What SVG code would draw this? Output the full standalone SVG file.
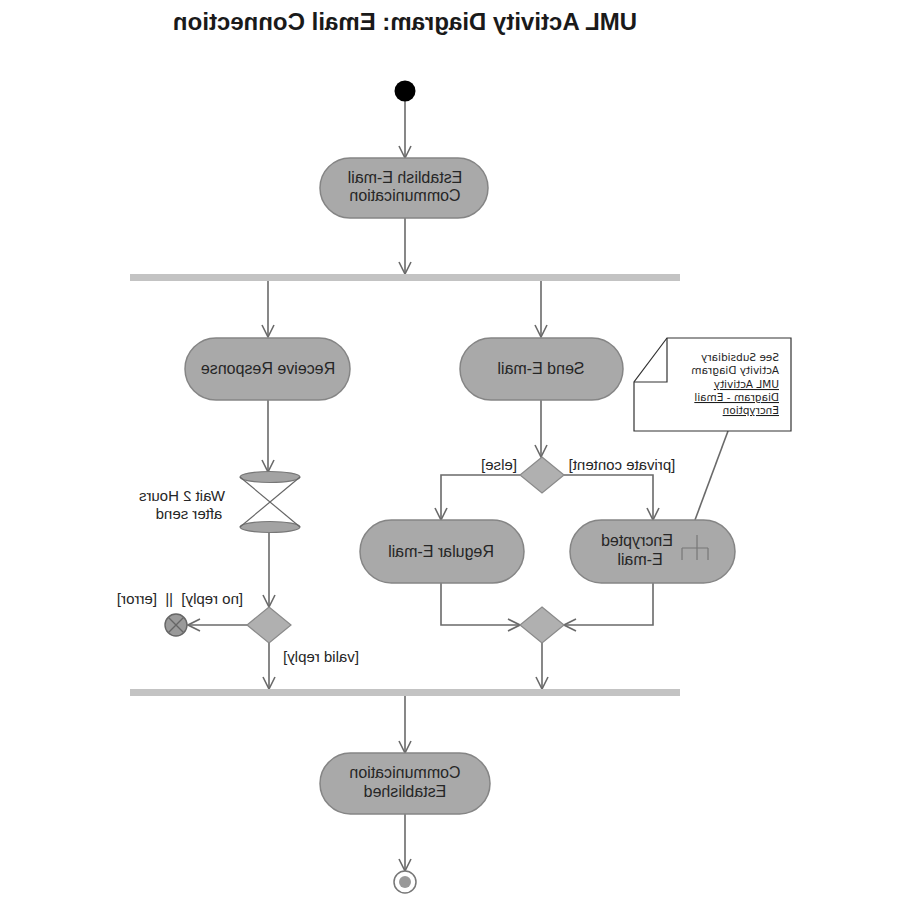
<svg xmlns="http://www.w3.org/2000/svg" width="900" height="900" viewBox="0 0 900 900">
<style>
text{font-family:"Liberation Sans",Arial,sans-serif;fill:#262626}
.title{font-size:24px;font-weight:bold;text-anchor:middle;fill:#1a1a1a}
.nt{font-size:16px;text-anchor:middle}
.lb{font-size:15px;text-anchor:middle}
.note{font-family:"DejaVu Sans",sans-serif;font-size:10.5px;fill:#1e1e1e}
.u{text-decoration:underline}
.act{fill:#a9a9a9;stroke:#858585;stroke-width:1.5}
.bar{fill:#c3c3c3}
.dec{fill:#b0b0b0;stroke:#8a8a8a;stroke-width:1.2}
.cn{fill:none;stroke:#6a6a6a;stroke-width:1.6}
.arr{marker-end:url(#ah)}
</style>
<defs>
<marker id="ah" markerUnits="userSpaceOnUse" viewBox="0 0 14 14" markerWidth="14" markerHeight="14" refX="13" refY="7" orient="auto">
<path d="M1,1 L13,7 L1,13" fill="none" stroke="#6a6a6a" stroke-width="1.6"/>
</marker>
</defs>
<rect width="900" height="900" fill="#fff"/>
<text class="title" x="-405" y="30" transform="scale(-1,1)">UML Activity Diagram: Email Connection</text>

<g id="connectors">
<line class="cn arr" x1="405" y1="101" x2="405" y2="158"/>
<line class="cn arr" x1="405" y1="218" x2="405" y2="274"/>
<line class="cn arr" x1="268" y1="281" x2="268" y2="337"/>
<line class="cn arr" x1="541" y1="281" x2="541" y2="337"/>
<line class="cn arr" x1="268" y1="400" x2="268" y2="472"/>
<line class="cn arr" x1="269" y1="533" x2="269" y2="607"/>
<line class="cn arr" x1="247" y1="625" x2="188" y2="625"/>
<line class="cn arr" x1="269" y1="643" x2="269" y2="689"/>
<line class="cn arr" x1="541" y1="400" x2="541" y2="457"/>
<polyline class="cn arr" points="520,475 441,475 441,520"/>
<polyline class="cn arr" points="564,475 653,475 653,520"/>
<polyline class="cn arr" points="441,583 441,625 520,625"/>
<polyline class="cn arr" points="653,583 653,625 564,625"/>
<line class="cn arr" x1="542" y1="643" x2="542" y2="689"/>
<line class="cn arr" x1="405" y1="696" x2="405" y2="753"/>
<line class="cn arr" x1="405" y1="814" x2="405" y2="871"/>
<line class="cn" x1="728" y1="431" x2="695" y2="520"/>
<text class="lb" x="-499" y="470" transform="scale(-1,1)">[else]</text>
<text class="lb" x="-622" y="470" transform="scale(-1,1)">[private content]</text>
<text class="lb" x="-180" y="604" transform="scale(-1,1)">[no reply]&#160; ||&#160; [error]</text>
<text class="lb" x="-321" y="662" transform="scale(-1,1)">[valid reply]</text>
</g>

<g id="start"><circle cx="405" cy="91" r="10.5" fill="#000"/></g>

<g id="establish">
<rect class="act" x="320" y="158" width="168" height="60" rx="30"/>
<text class="nt" transform="scale(-1,1)"><tspan x="-405" y="183">Establish E-mail</tspan><tspan x="-405" y="201">Communication</tspan></text>
</g>

<g id="fork"><rect class="bar" x="130" y="274" width="550" height="7"/></g>

<g id="receive">
<rect class="act" x="185" y="338" width="165" height="62" rx="31"/>
<text class="nt" x="-268" y="374" transform="scale(-1,1)">Receive Response</text>
</g>

<g id="send">
<rect class="act" x="460" y="338" width="163" height="62" rx="31"/>
<text class="nt" x="-541" y="374" transform="scale(-1,1)">Send E-mail</text>
</g>

<g id="note">
<polygon points="667,338 791,338 791,431 634,431 634,382" fill="#fff" stroke="#333" stroke-width="1.2"/>
<path d="M667,338 L667,382 L634,382" fill="none" stroke="#333" stroke-width="1.2"/>
<text class="note" transform="scale(-1,1)"><tspan x="-779" y="361">See Subsidiary</tspan><tspan x="-779" y="374">Activity Diagram</tspan><tspan class="u" x="-779" y="388">UML Activity</tspan><tspan class="u" x="-779" y="401">Diagram - Email</tspan><tspan class="u" x="-779" y="414">Encryption</tspan></text>
</g>

<g id="wait">
<ellipse cx="270" cy="477" rx="30" ry="5.5" fill="#a3a3a3" stroke="#777" stroke-width="1.2"/>
<ellipse cx="270" cy="527" rx="30" ry="5.5" fill="#a3a3a3" stroke="#777" stroke-width="1.2"/>
<line x1="240" y1="477" x2="300" y2="527" stroke="#666" stroke-width="1.2"/>
<line x1="300" y1="477" x2="240" y2="527" stroke="#666" stroke-width="1.2"/>
<text class="lb" transform="scale(-1,1)"><tspan x="-182" y="501">Wait 2 Hours</tspan><tspan x="-189" y="519">after send</tspan></text>
</g>

<g id="reply-decision"><polygon class="dec" points="269,607 291,625 269,643 247,625"/></g>

<g id="flow-final">
<circle cx="176" cy="625" r="11" fill="#9a9a9a" stroke="#666" stroke-width="1.4"/>
<path d="M168.5,617.5 L183.5,632.5 M183.5,617.5 L168.5,632.5" stroke="#666" stroke-width="1.4"/>
</g>

<g id="content-decision"><polygon class="dec" points="542,457 564,475 542,493 520,475"/></g>

<g id="regular">
<rect class="act" x="360" y="520" width="164" height="63" rx="31.5"/>
<text class="nt" x="-441" y="557" transform="scale(-1,1)">Regular E-mail</text>
</g>

<g id="encrypted">
<rect class="act" x="570" y="520" width="165" height="63" rx="31.5"/>
<text class="nt" transform="scale(-1,1)"><tspan x="-637" y="546">Encrypted</tspan><tspan x="-640" y="565">E-mail</tspan></text>
<path d="M697,535 L697,560 M682,548 L708,548 M682,548 L682,560 M708,548 L708,560" fill="none" stroke="#777" stroke-width="1.2"/>
</g>

<g id="merge"><polygon class="dec" points="542,607 564,625 542,643 520,625"/></g>

<g id="join"><rect class="bar" x="130" y="689" width="550" height="7"/></g>

<g id="established">
<rect class="act" x="320" y="753" width="170" height="61" rx="30.5"/>
<text class="nt" transform="scale(-1,1)"><tspan x="-405" y="778">Communication</tspan><tspan x="-405" y="797">Established</tspan></text>
</g>

<g id="final">
<circle cx="405" cy="882" r="11" fill="#fff" stroke="#777" stroke-width="1.5"/>
<circle cx="405" cy="882" r="6" fill="#999"/>
</g>
</svg>
